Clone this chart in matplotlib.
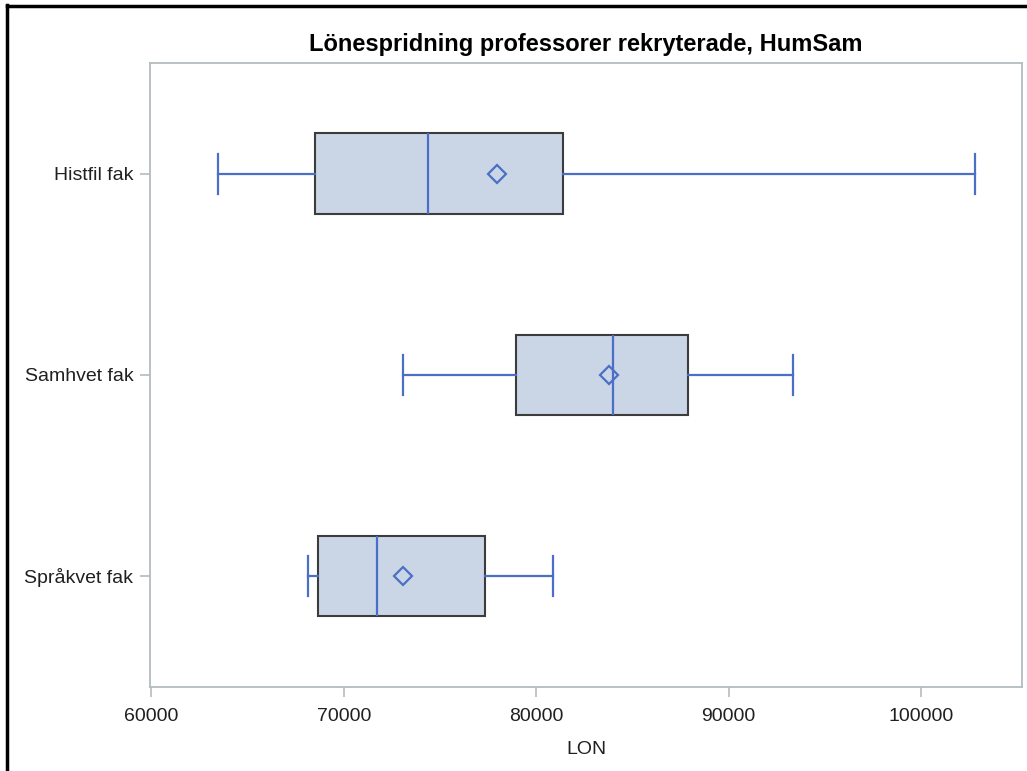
import matplotlib.pyplot as plt
from matplotlib.lines import Line2D

plt.rcParams["font.family"] = ["Liberation Sans", "DejaVu Sans"]

# data (LON)
groups = ["Histfil fak", "Samhvet fak", "Språkvet fak"]
whislo = [63470, 73080, 68140]
q1 = [68510, 78950, 68660]
med = [74380, 83990, 71730]
mean = [77970, 83780, 73080]
q3 = [81400, 87890, 77350]
whishi = [102810, 93350, 80860]
xticks = [60000, 70000, 80000, 90000, 100000]

blue = "#4b6fc6"
fill = "#cad5e6"
edge = "#3c3c3c"
grey = "#b4bcc0"

stats = []
for i in range(len(groups)):
    stats.append(dict(label=groups[i], whislo=whislo[i], q1=q1[i], med=med[i],
                      q3=q3[i], whishi=whishi[i], mean=mean[i], fliers=[]))

fig = plt.figure(figsize=(10.27, 7.71), dpi=100, facecolor="w")
ax = fig.add_axes([150/1027, 1-687/771, 872/1027, 624/771])

ax.bxp(stats, positions=[0, 1, 2], vert=False, widths=0.4, capwidths=0.2,
       showmeans=True, patch_artist=True,
       boxprops=dict(facecolor=fill, edgecolor=edge, linewidth=1.5),
       whiskerprops=dict(color=blue, linewidth=1.6),
       capprops=dict(color=blue, linewidth=1.6),
       medianprops=dict(color=blue, linewidth=1.6),
       meanprops=dict(marker="D", markersize=9, markerfacecolor="none",
                      markeredgecolor=blue, markeredgewidth=1.6))

ax.set_xlim(59930, 105250)
ax.set_ylim(2.552, -0.55)
ax.set_xticks(xticks)
ax.set_xticklabels([str(t) for t in xticks])
ax.tick_params(axis="both", colors=grey, labelcolor="#202020", labelsize=14,
               length=7, width=1.2)
ax.tick_params(axis="x", pad=8)
ax.tick_params(axis="y", pad=5)
for s in ax.spines.values():
    s.set_color(grey)
    s.set_linewidth(1.3)

ax.set_xlabel("LON", fontsize=14, color="#202020", labelpad=12)
ax.set_title("Lönespridning professorer rekryterade, HumSam", fontsize=17,
             fontweight="bold", pad=9)

# black screenshot frame on top and left
fig.add_artist(Line2D([7/1027, 7/1027], [0, 1-5/771], color="black", lw=2.5,
                      transform=fig.transFigure))
fig.add_artist(Line2D([7/1027, 1], [1-6/771, 1-6/771], color="black", lw=2.5,
                      transform=fig.transFigure))

plt.savefig("out.png", dpi=100)
